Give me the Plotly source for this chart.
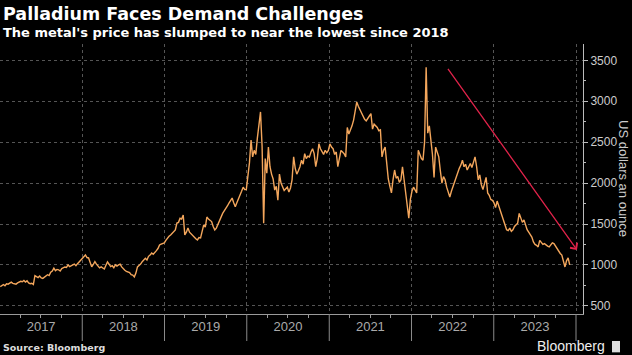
import pandas as pd
import plotly.graph_objects as go

# Weekly palladium price readings (US$ per ounce), Mondays starting 2017-01-02
START = "2017-01-02"
p2017 = [735, 750, 760, 745, 770, 765, 780, 790, 775, 770,
         765, 780, 790, 800, 795, 810, 790, 805, 780, 770,
         775, 760, 870, 860, 845, 865, 840, 835, 850, 860,
         880, 870, 910, 925, 960, 930, 945, 940, 925, 955,
         965, 975, 970, 1000, 980, 995, 1000, 1010, 990, 1015,
         1040, 1060]
p2018 = [1085, 1100, 1122, 1090, 1085, 1030, 976, 1005, 1040, 1010,
         980, 963, 975, 960, 950, 995, 1037, 1010, 980, 990,
         965, 1000, 985, 1000, 1010, 975, 950, 935, 920, 915,
         905, 880, 875, 854, 900, 976, 990, 1010, 1040, 1065,
         1080, 1060, 1105, 1120, 1146, 1130, 1160, 1175, 1200, 1244, 1255, 1260]
p2019 = [1270, 1300, 1330, 1350, 1366, 1390, 1410, 1427, 1512, 1520,
         1570, 1560, 1610, 1366, 1400, 1450, 1400, 1380, 1350, 1340,
         1320, 1305, 1335, 1330, 1410, 1490, 1463, 1585, 1560, 1550,
         1530, 1470, 1427, 1450, 1500, 1540, 1580, 1630, 1660, 1700,
         1720, 1755, 1790, 1817, 1760, 1710, 1760, 1800, 1860, 1900, 1950, 1920]
p2020 = [1920, 2070, 2250, 2525, 2320, 2400, 2350, 2550, 2680, 2870,
         2450, 1510, 2300, 2120, 2440, 2200, 2110, 2050, 1915, 1960,
         1790, 2110, 2000, 1955, 1910, 1930, 1950, 1890, 1940, 2040,
         2320, 2180, 2110, 2150, 2200, 2280, 2230, 2360, 2300, 2330,
         2320, 2380, 2420, 2360, 2200, 2300, 2480, 2420, 2380, 2350, 2400, 2370]
p2021 = [2400, 2480, 2440, 2420, 2350, 2380, 2200, 2330, 2400, 2380,
         2360, 2320, 2680, 2600, 2640, 2700, 2770, 2880, 2990, 2940,
         2900, 2850, 2805, 2780, 2760, 2800, 2820, 2850, 2660, 2720,
         2700, 2680, 2640, 2650, 2320, 2400, 2440, 2200, 2050, 1960,
         1880, 2040, 2160, 2060, 2080, 2010, 2040, 2200, 2050, 1860, 1760, 1570]
p2022 = [1800, 1900, 1950, 1920, 1880, 2400, 2350, 2300, 2280, 2500,
         3415, 2610, 2700, 2540, 2350, 2070, 2440, 2380, 2320, 2150,
         2000, 2080, 2040, 1950, 1900, 1830, 1900, 1960, 2000, 2070,
         2120, 2180, 2220, 2280, 2200, 2230, 2160, 2200, 2240, 2190,
         2260, 2320, 2200, 2040, 2100, 1980, 1920, 1990, 2070, 1880, 1850, 1800]
p2023 = [1790, 1760, 1700, 1780, 1720, 1650, 1590, 1520, 1480, 1430,
         1420, 1450, 1410, 1430, 1470, 1490, 1510, 1630, 1560, 1520,
         1550, 1480, 1430, 1400, 1370, 1340, 1280, 1250, 1240, 1220,
         1300, 1270, 1250, 1260, 1240, 1230, 1220, 1240, 1270, 1260,
         1230, 1200, 1160, 1140, 1120, 1060, 975, 1050, 1085, 1000]

prices = p2017 + p2018 + p2019 + p2020 + p2021 + p2022 + p2023
dates = pd.date_range(START, periods=len(prices), freq="7D")

year_boundaries = ["2018", "2019", "2020", "2021", "2022", "2023", "2024"]
y_ticks = [500, 1000, 1500, 2000, 2500, 3000, 3500]

# trend arrow (start -> end)
ARROW_START = ("2022-06-07", 3415)
ARROW_END = ("2024-01-05", 1183)

TITLE = "Palladium Faces Demand Challenges"
SUBTITLE = "The metal's price has slumped to near the lowest since 2018"
Y_TITLE = "US dollars an ounce"
SOURCE = "Source: Bloomberg"
BRAND = "Bloomberg"

fig = go.Figure()
fig.add_trace(go.Scatter(x=dates, y=prices, mode="lines",
                         line=dict(color="#f3a65c", width=1.4),
                         hoverinfo="skip", showlegend=False))

fig.update_layout(
    width=632, height=355,
    paper_bgcolor="#000000", plot_bgcolor="#000000",
    margin=dict(l=0, r=49, t=44, b=41),
    showlegend=False,
    font=dict(family="Liberation Sans Narrow, Liberation Sans, Arial", color="#cccccc", size=12),
)

fig.update_xaxes(
    range=["2017-01-01", "2024-02-01"],
    type="date",
    dtick="M12", tick0="2017-01-01",
    ticklabelmode="period", tickformat="%Y",
    ticks="", ticklen=0,
    tickfont=dict(size=13, color="#aaaaaa"),
    showgrid=True, gridcolor="#555555", griddash="dot", gridwidth=1,
    showline=True, linecolor="#9a9a9a", linewidth=1,
    minor=dict(dtick="M3", tick0="2017-01-01", ticks="outside", ticklen=3,
               tickcolor="#9a9a9a", showgrid=False),
    zeroline=False, fixedrange=True,
)

fig.update_yaxes(
    side="right", range=[400, 3700],
    tickvals=y_ticks,
    ticks="outside", ticklen=4, tickcolor="#bbbbbb",
    tickfont=dict(size=12, color="#cccccc"),
    showgrid=True, gridcolor="#555555", griddash="dot", gridwidth=1,
    showline=True, linecolor="#bbbbbb", linewidth=1,
    minor=dict(dtick=250, tick0=0, ticks="outside", ticklen=2, tickcolor="#bbbbbb", showgrid=False),
    zeroline=False, fixedrange=True,
)

# y-axis title, reading top to bottom
fig.add_annotation(text=Y_TITLE, x=1.0703, y=0.5, xref="paper", yref="paper",
                   xanchor="center", yanchor="middle", textangle=90, showarrow=False,
                   font=dict(family="Liberation Sans, Arial", size=13, color="#cccccc"))

# year separators below the axis
for yb in year_boundaries:
    fig.add_shape(type="line", xref="x", yref="paper", x0=yb + "-01-01", x1=yb + "-01-01",
                  y0=-0.1, y1=0, line=dict(color="#8a8a8a", width=1))

# trend arrow
fig.add_annotation(x=ARROW_END[0], y=ARROW_END[1], ax=ARROW_START[0], ay=ARROW_START[1],
                   xref="x", yref="y", axref="x", ayref="y",
                   showarrow=True, arrowhead=4, arrowsize=1.3, arrowwidth=1.3,
                   arrowcolor="#e0234a", text="")

# titles
fig.add_annotation(text="<b>" + TITLE + "</b>", x=0, y=1, xref="paper", yref="paper",
                   xanchor="left", yanchor="top", xshift=1, yshift=44 - 2, showarrow=False,
                   font=dict(family="DejaVu Sans", size=17.5, color="#ffffff"))
fig.add_annotation(text="<b>" + SUBTITLE + "</b>", x=0, y=1, xref="paper", yref="paper",
                   xanchor="left", yanchor="top", xshift=1, yshift=44 - 23, showarrow=False,
                   font=dict(family="DejaVu Sans", size=13, color="#ffffff"))
fig.add_annotation(text="<b>" + SOURCE + "</b>", x=0, y=0, xref="paper", yref="paper",
                   xanchor="left", yanchor="bottom", yshift=-41, xshift=1, showarrow=False,
                   font=dict(family="DejaVu Sans", size=9.5, color="#dddddd"))
fig.add_annotation(text=BRAND, x=1.0412, y=-0.12, xref="paper", yref="paper",
                   xanchor="right", yanchor="middle", showarrow=False,
                   font=dict(family="Liberation Sans, Arial", size=14, color="#eeeeee"))
fig.add_shape(type="rect", xref="paper", yref="paper", x0=1.0497, x1=1.0635, y0=-0.142, y1=-0.1,
              fillcolor="#dddddd", line=dict(width=0))

fig.write_html("out.html", config={"displayModeBar": False},
               post_script="document.body.style.margin='0';document.body.style.padding='0';")
